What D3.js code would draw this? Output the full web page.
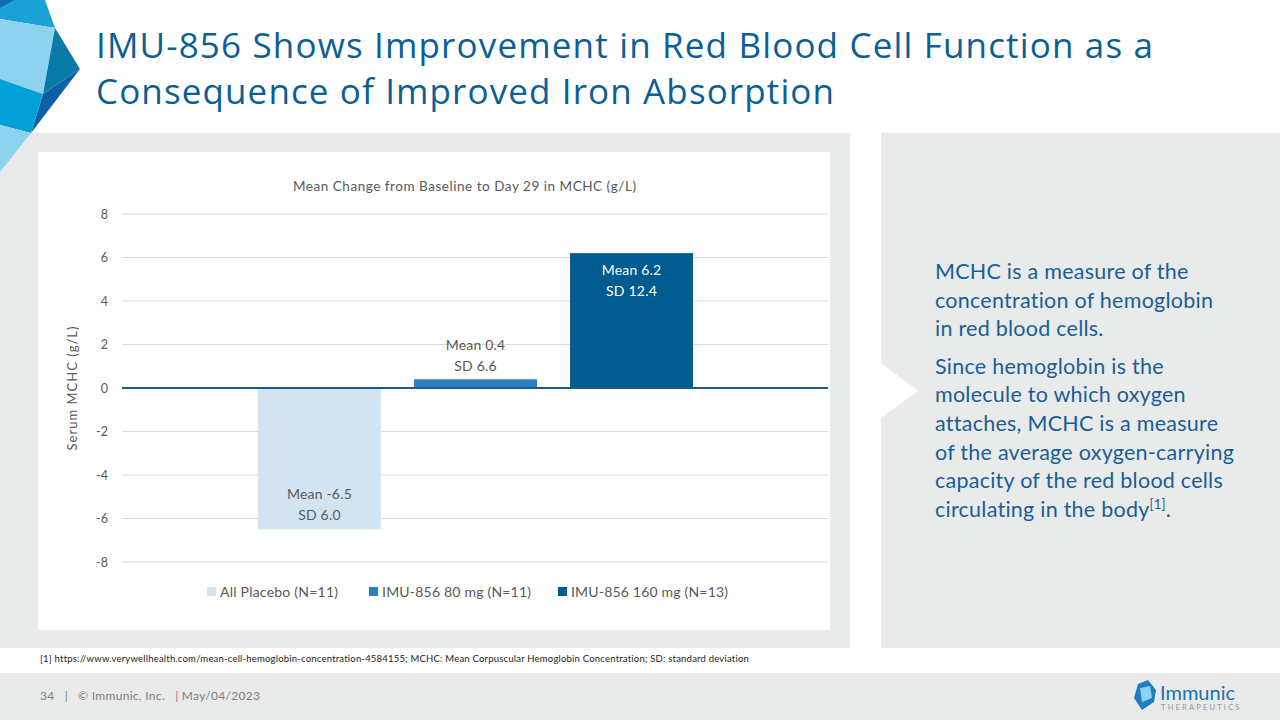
<!DOCTYPE html>
<html>
<head>
<meta charset="utf-8">
<script src="https://cdn.jsdelivr.net/npm/d3@7"></script>
<style>
  body { margin: 0; background: #fff; }
  svg { display: block; font-family: Lato, "Noto Sans", sans-serif; }
</style>
</head>
<body>
<script>
// chart values
var series = ["All Placebo (N=11)", "IMU-856 80 mg (N=11)", "IMU-856 160 mg (N=13)"];
var means = [-6.5, 0.4, 6.2];
var sds = [6.0, 6.6, 12.4];
var yTicks = [-8, -6, -4, -2, 0, 2, 4, 6, 8];
var barColors = ["#d3e4f1", "#2b80c3", "#005b8f"];

var titleLines = ["IMU-856 Shows Improvement in Red Blood Cell Function as a",
                  "Consequence of Improved Iron Absorption"];
var sideText = ["MCHC is a measure of the", "concentration of hemoglobin", "in red blood cells.",
                "Since hemoglobin is the", "molecule to which oxygen", "attaches, MCHC is a measure",
                "of the average oxygen-carrying", "capacity of the red blood cells", "circulating in the body"];

var width = 1280, height = 720;

var svg = d3.select("body").append("svg")
    .attr("width", width)
    .attr("height", height);

// stretch a text to the width it has on the slide
function fitWidth(sel, target) {
  sel.each(function() {
    var n = this.textContent.length;
    var w = this.getComputedTextLength();
    d3.select(this).style("letter-spacing", ((target - w) / (n - 1)) + "px");
  });
}

// slide background pieces
svg.append("rect").attr("x", 0).attr("y", 133).attr("width", 850).attr("height", 515).attr("fill", "#e9eaea");
svg.append("rect").attr("x", 881).attr("y", 133).attr("width", 399).attr("height", 515).attr("fill", "#e9eaea");
svg.append("path").attr("d", "M881,363 L918,391 L881,418 Z").attr("fill", "#fff");
svg.append("rect").attr("x", 0).attr("y", 673).attr("width", width).attr("height", 47).attr("fill", "#e9eaea");
svg.append("rect").attr("x", 38).attr("y", 152).attr("width", 792).attr("height", 478).attr("fill", "#fff");

// corner decoration
var deco = [
  ["M0,0 L45,0 L55,28 L0,19 Z", "#1aa1d6"],
  ["M0,0 L14,0 L0,8 Z", "#0a6fae"],
  ["M0,19 L55,28 L43,94 L0,79 Z", "#8ed3ee"],
  ["M55,28 L80,69 L43,94 Z", "#0a7aa8"],
  ["M43,94 L80,69 L31,133 Z", "#0d5fa6"],
  ["M0,79 L43,94 L31,133 L0,125 Z", "#00a0d6"],
  ["M0,125 L31,133 L0,172 Z", "#8ed3ee"]
];
svg.append("g").selectAll("path").data(deco).join("path")
    .attr("d", function(d) { return d[0]; })
    .attr("fill", function(d) { return d[1]; });

// title
var titleWidths = [1057, 738];
svg.append("g").selectAll("text").data(titleLines).join("text")
    .attr("x", 96)
    .attr("y", function(d, i) { return 58 + i * 46; })
    .attr("fill", "#0c5f96")
    .style("font-family", "'Open Sans', sans-serif")
    .style("font-size", "35px")
    .text(function(d) { return d; })
    .each(function(d, i) { fitWidth(d3.select(this), titleWidths[i]); });

// chart
var y = d3.scaleLinear().domain([-8, 8]).range([562, 214]);
var x = d3.scaleBand().domain(series).range([258, 693]).paddingInner(0.212);
var plotLeft = 122, plotRight = 828;

svg.append("g").selectAll("line").data(yTicks).join("line")
    .attr("x1", plotLeft).attr("x2", plotRight)
    .attr("y1", function(d) { return y(d); })
    .attr("y2", function(d) { return y(d); })
    .attr("stroke", "#d9d9d9").attr("stroke-width", 1);

var yAxis = svg.append("g")
    .attr("transform", "translate(108,0)")
    .call(d3.axisLeft(y).tickValues(yTicks).tickSize(0).tickPadding(0)
      .tickFormat(function(d) { return String(d); }));
yAxis.select(".domain").remove();
yAxis.selectAll("text").attr("fill", "#595959").style("font-size", "12.5px").style("font-family", "Lato, sans-serif");

svg.append("text")
    .attr("transform", "translate(77," + y(0) + ") rotate(-90)")
    .attr("text-anchor", "middle")
    .attr("fill", "#595959")
    .style("font-size", "13px")
    .text("Serum MCHC (g/L)")
    .call(fitWidth, 124);

svg.append("text")
    .attr("x", 293).attr("y", 191)
    .attr("fill", "#595959")
    .style("font-size", "13.5px")
    .text("Mean Change from Baseline to Day 29 in MCHC (g/L)")
    .call(fitWidth, 343);

svg.append("g").selectAll("rect").data(series).join("rect")
    .attr("x", function(d) { return x(d); })
    .attr("width", x.bandwidth())
    .attr("y", function(d, i) { return y(Math.max(0, means[i])); })
    .attr("height", function(d, i) { return Math.abs(y(means[i]) - y(0)); })
    .attr("fill", function(d, i) { return barColors[i]; });

svg.append("line")
    .attr("x1", plotLeft).attr("x2", plotRight)
    .attr("y1", y(0)).attr("y2", y(0))
    .attr("stroke", "#1f5a80").attr("stroke-width", 2);

// data labels
function labelY(i) {
  if (i === 0) return y(means[i]) - 30;   // inside base of negative bar
  if (i === 1) return y(means[i]) - 29;   // above short bar
  return y(means[i]) + 22;                // inside top of tall bar
}
var labels = svg.append("g").selectAll("text").data(series).join("text")
    .attr("text-anchor", "middle")
    .attr("fill", function(d, i) { return i === 2 ? "#ffffff" : "#595959"; })
    .style("font-size", "14px")
    .style("letter-spacing", "0.2px");
labels.append("tspan")
    .attr("x", function(d) { return x(d) + x.bandwidth() / 2; })
    .attr("y", function(d, i) { return labelY(i); })
    .text(function(d, i) { return "Mean " + means[i].toFixed(1); });
labels.append("tspan")
    .attr("x", function(d) { return x(d) + x.bandwidth() / 2; })
    .attr("y", function(d, i) { return labelY(i) + 20.5; })
    .text(function(d, i) { return "SD " + sds[i].toFixed(1); });

// legend
var legendX = [207, 369, 558];
var legendW = [118, 149, 157];
var legend = svg.append("g").selectAll("g").data(series).join("g")
    .attr("transform", function(d, i) { return "translate(" + legendX[i] + ",587)"; });
legend.append("rect").attr("width", 9).attr("height", 9)
    .attr("fill", function(d, i) { return barColors[i]; });
legend.append("text").attr("x", 13).attr("y", 10)
    .attr("fill", "#595959").style("font-size", "14px")
    .text(function(d) { return d; })
    .each(function(d, i) { fitWidth(d3.select(this), legendW[i]); });

// side panel text
var side = svg.append("g").selectAll("text").data(sideText).join("text")
    .attr("x", 935)
    .attr("y", function(d, i) { return 279 + i * 28.6 + (i >= 3 ? 9 : 0); })
    .attr("fill", "#1a5e96")
    .style("font-size", "21.5px")
    .style("letter-spacing", "0.25px")
    .text(function(d) { return d; });
side.filter(function(d, i) { return i === sideText.length - 1; })
  .append("tspan").attr("dy", -8).style("font-size", "13px").text("[1]");
side.filter(function(d, i) { return i === sideText.length - 1; })
  .append("tspan").attr("dy", 8).text(".");

// footnote and footer
svg.append("text").attr("x", 40).attr("y", 662)
    .attr("fill", "#222").style("font-size", "9.5px")
    .text("[1] https://www.verywellhealth.com/mean-cell-hemoglobin-concentration-4584155; MCHC: Mean Corpuscular Hemoglobin Concentration; SD: standard deviation")
    .call(fitWidth, 709);
svg.append("text").attr("x", 40).attr("y", 700)
    .attr("fill", "#7f7f7f").style("font-size", "12px")
    .style("white-space", "pre")
    .text("34   |   \u00a9 Immunic, Inc.   | May/04/2023")
    .call(fitWidth, 220);

// logo
var logo = svg.append("g").attr("transform", "translate(1132,680)");
logo.append("path").attr("d", "M6,4 L16,0 L24,10 L22,22 L10,30 L2,18 Z").attr("fill", "#1e7fc0");
logo.append("path").attr("d", "M8,8 L18,6 L20,18 L10,22 Z").attr("fill", "#8ed3ee");
logo.append("text").attr("x", 28).attr("y", 20).attr("fill", "#1f6fae").style("font-size", "20px").text("Immunic");
logo.append("text").attr("x", 29).attr("y", 30).attr("fill", "#8a9aa8").style("font-size", "7.5px")
    .style("letter-spacing", "2.2px").text("THERAPEUTICS");
</script>
</body>
</html>
